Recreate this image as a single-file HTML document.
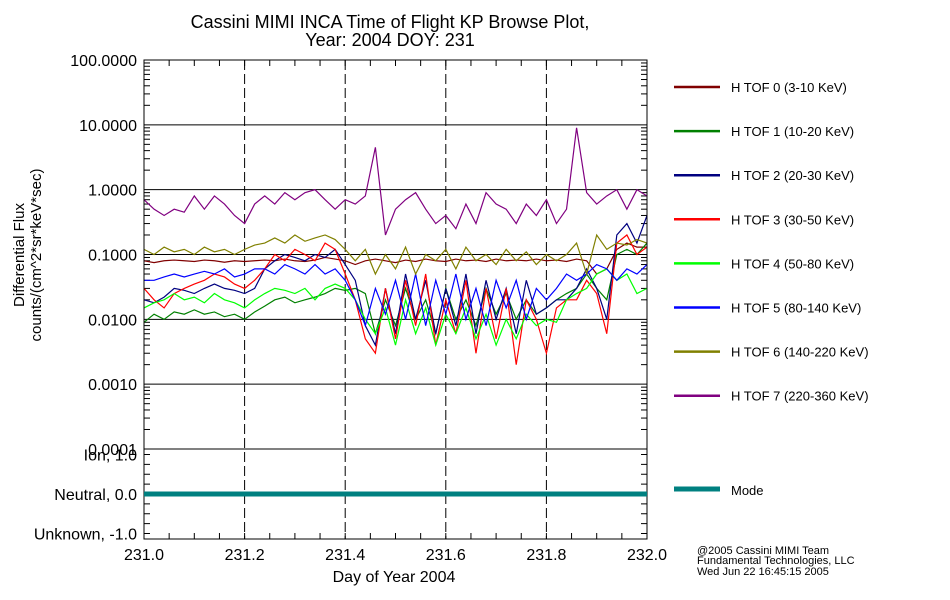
<!DOCTYPE html>
<html><head><meta charset="utf-8"><style>
body{margin:0;background:#fff;}
svg{display:block;font-family:"Liberation Sans",sans-serif;}
</style></head><body>
<svg id="chart" width="950" height="600"></svg>
<script>
const xs=[];for(let i=0;i<=50;i++)xs.push(231+i*0.02);
const tof0=[0.08,0.075,0.08,0.082,0.08,0.078,0.082,0.08,0.076,0.08,0.078,0.08,0.082,0.08,0.085,0.08,0.078,0.082,0.09,0.085,0.08,0.07,0.08,0.085,0.08,0.075,0.082,0.078,0.085,0.08,0.078,0.085,0.08,0.082,0.078,0.085,0.08,0.082,0.08,0.085,0.08,0.082,0.078,0.085,0.08,0.05,0.06,0.12,0.15,0.13,0.13];
const tof1=[0.009,0.012,0.01,0.013,0.012,0.014,0.012,0.013,0.011,0.012,0.01,0.013,0.016,0.02,0.022,0.018,0.02,0.022,0.025,0.03,0.028,0.03,0.025,0.006,0.02,0.008,0.03,0.01,0.02,0.006,0.03,0.01,0.02,0.008,0.03,0.012,0.025,0.01,0.02,0.012,0.015,0.02,0.025,0.03,0.05,0.03,0.02,0.1,0.12,0.1,0.15];
const tof2=[0.02,0.018,0.022,0.03,0.028,0.025,0.03,0.035,0.03,0.028,0.025,0.03,0.06,0.08,0.1,0.09,0.08,0.1,0.09,0.12,0.07,0.04,0.008,0.004,0.03,0.006,0.05,0.01,0.04,0.006,0.03,0.008,0.05,0.006,0.04,0.01,0.03,0.006,0.04,0.012,0.015,0.02,0.02,0.03,0.06,0.03,0.01,0.2,0.3,0.15,0.4];
const tof3=[0.03,0.02,0.015,0.025,0.03,0.035,0.04,0.05,0.045,0.035,0.03,0.04,0.06,0.1,0.08,0.12,0.1,0.08,0.15,0.12,0.05,0.02,0.005,0.003,0.03,0.005,0.04,0.008,0.05,0.004,0.02,0.006,0.04,0.003,0.03,0.005,0.03,0.002,0.02,0.01,0.003,0.015,0.02,0.02,0.04,0.025,0.006,0.15,0.2,0.1,0.13];
const tof4=[0.015,0.018,0.02,0.025,0.02,0.022,0.018,0.025,0.02,0.018,0.015,0.02,0.025,0.03,0.028,0.025,0.03,0.02,0.03,0.035,0.03,0.02,0.01,0.006,0.015,0.004,0.02,0.006,0.015,0.004,0.012,0.006,0.015,0.005,0.012,0.004,0.01,0.005,0.012,0.008,0.01,0.009,0.02,0.025,0.03,0.05,0.06,0.04,0.05,0.025,0.03];
const tof5=[0.04,0.04,0.045,0.05,0.045,0.05,0.055,0.05,0.06,0.045,0.05,0.06,0.06,0.05,0.07,0.06,0.05,0.07,0.05,0.06,0.04,0.02,0.008,0.03,0.012,0.04,0.01,0.05,0.008,0.04,0.012,0.05,0.01,0.03,0.008,0.04,0.015,0.04,0.01,0.03,0.02,0.03,0.05,0.04,0.05,0.07,0.06,0.04,0.06,0.05,0.07];
const tof6=[0.12,0.1,0.13,0.11,0.12,0.1,0.13,0.11,0.12,0.1,0.12,0.14,0.15,0.18,0.15,0.2,0.16,0.18,0.2,0.17,0.12,0.08,0.12,0.05,0.1,0.06,0.13,0.05,0.1,0.08,0.12,0.06,0.13,0.08,0.1,0.07,0.12,0.08,0.11,0.07,0.1,0.08,0.1,0.15,0.05,0.2,0.12,0.15,0.14,0.17,0.15];
const tof7=[0.7,0.5,0.4,0.5,0.45,0.8,0.5,0.8,0.6,0.4,0.3,0.6,0.8,0.6,0.9,0.7,0.9,1.0,0.7,0.5,0.7,0.6,0.8,4.5,0.2,0.5,0.7,0.9,0.5,0.3,0.4,0.25,0.6,0.3,0.9,0.6,0.5,0.3,0.6,0.4,0.7,0.3,0.5,9.0,0.9,0.6,0.8,1.0,0.5,1.0,0.8];
const seriesNames=["H TOF 0 (3-10 KeV)","H TOF 1 (10-20 KeV)","H TOF 2 (20-30 KeV)","H TOF 3 (30-50 KeV)","H TOF 4 (50-80 KeV)","H TOF 5 (80-140 KeV)","H TOF 6 (140-220 KeV)","H TOF 7 (220-360 KeV)"];
const yTickLabels=["100.0000","10.0000","1.0000","0.1000","0.0100","0.0010","0.0001"];
const xTickLabels=["231.0","231.2","231.4","231.6","231.8","232.0"];
const modeValues=[0,0];

const svg=document.getElementById('chart');const NS="http://www.w3.org/2000/svg";
function el(t,a,p){const e=document.createElementNS(NS,t);for(const k in a)e.setAttribute(k,a[k]);(p||svg).appendChild(e);return e;}
const X0=144,X1=647,YT=60,YB=449;
const xScale=v=>X0+(v-231)*(X1-X0);
const yScale=v=>YT+(2-Math.log10(v))*(YB-YT)/6;
const mY=v=>494-v*39.5;
const colors=["#800000","#008000","#000080","#ff0000","#00ff00","#0000ff","#808000","#800080"];
const data=[tof0,tof1,tof2,tof3,tof4,tof5,tof6,tof7];

let t=el('text',{x:390,y:28,'text-anchor':'middle','font-size':18});t.textContent="Cassini MIMI INCA Time of Flight KP Browse Plot,";


t=el('text',{x:390,y:46,'text-anchor':'middle','font-size':18});t.textContent="Year: 2004 DOY: 231";



// grid
yTickLabels.forEach((lab,i)=>{const y=YT+i*(YB-YT)/6;
 const l=el('line',{x1:X0,x2:X1,y1:y,y2:y,stroke:'#000','stroke-width':1});
 
 
 const tx=el('text',{x:137,y:y+6,'text-anchor':'end','font-size':16});tx.textContent=lab;
 
 
 if(i<6)for(let m=2;m<=9;m++){const yy=yScale(Math.pow(10,2-i-1)*m);
  el('line',{x1:X0,x2:X0+(m==1?10:6),y1:yy,y2:yy,stroke:'#000'});
  el('line',{x1:X1,x2:X1-6,y1:yy,y2:yy,stroke:'#000'});}
});
xTickLabels.forEach((lab,i)=>{const x=xScale(231+i*0.2);
 if(i>0&&i<5){const g=el('line',{x1:x,x2:x,y1:YT,y2:539,stroke:'#000','stroke-dasharray':'10,4'});
 
 }
 const tx=el('text',{x:x,y:560,'text-anchor':'middle','font-size':16});tx.textContent=lab;
 
 
});
for(let k=1;k<20;k++){const x=xScale(231+k*0.05);el('line',{x1:x,x2:x,y1:539,y2:533,stroke:'#000'});el('line',{x1:x,x2:x,y1:YT,y2:YT+6,stroke:'#000'});}

// series
data.forEach((arr,s)=>{const p=el('polyline',{points:arr.map((v,i)=>xScale(xs[i])+','+yScale(v)).join(' '),fill:'none',stroke:colors[s],'stroke-width':1.2});
 
 
 const ly=87+s*44.1;
 const ll=el('line',{x1:674,x2:720,y1:ly,y2:ly,stroke:colors[s],'stroke-width':2.5});
 
 
 const lt=el('text',{x:731,y:ly+5,'font-size':13});lt.textContent=seriesNames[s];
 
 
});

// frames
let f=el('rect',{x:X0,y:YT,width:X1-X0,height:YB-YT,fill:'none',stroke:'#000'});


f=el('rect',{x:X0,y:YB,width:X1-X0,height:539-YB,fill:'none',stroke:'#000'});



// mode panel
[["Ion, 1.0",1],["Neutral, 0.0",0],["Unknown, -1.0",-1]].forEach(([lab,v])=>{const tx=el('text',{x:137,y:mY(v)+6,'text-anchor':'end','font-size':16});tx.textContent=lab;
 
 });
for(let k=-4;k<=4;k++){const y=mY(k*0.25);el('line',{x1:X0,x2:X0+6,y1:y,y2:y,stroke:'#000'});el('line',{x1:X1,x2:X1-6,y1:y,y2:y,stroke:'#000'});}
const mode=el('line',{x1:xScale(231),x2:xScale(232),y1:mY(modeValues[0]),y2:mY(modeValues[1]),stroke:'#008080','stroke-width':5});


const ml=el('line',{x1:674,x2:720,y1:489,y2:489,stroke:'#008080','stroke-width':5});


t=el('text',{x:731,y:495,'font-size':13});t.textContent="Mode";



// axis titles
t=el('text',{x:394,y:582,'text-anchor':'middle','font-size':16});t.textContent="Day of Year 2004";


t=el('text',{x:0,y:0,'text-anchor':'middle','font-size':15,transform:'translate(24,255) rotate(-90)'});t.textContent="Differential Flux";


t=el('text',{x:0,y:0,'text-anchor':'middle','font-size':15,transform:'translate(41,255) rotate(-90)'});t.textContent="counts/(cm^2*sr*keV*sec)";



[["@2005 Cassini MIMI Team",554],["Fundamental Technologies, LLC",564],["Wed Jun 22 16:45:15 2005",575]].forEach(([s,y])=>{const tx=el('text',{x:697,y:y,'font-size':11});tx.textContent=s;
 
 });
</script>
</body></html>
